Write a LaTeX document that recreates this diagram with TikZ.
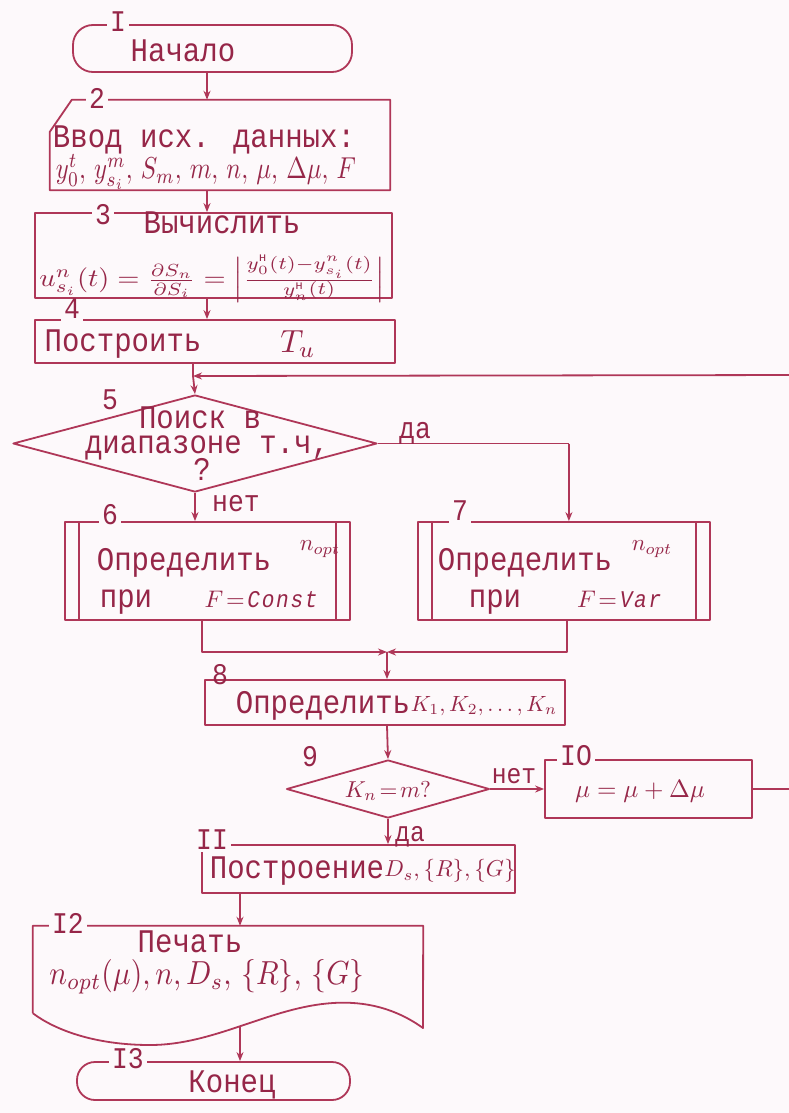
\documentclass[tikz,border=0pt]{standalone}
\usepackage{amsmath}
\usepackage{graphicx}
\usepackage{fontspec}
\setmainfont{Liberation Mono}[FakeStretch=0.88]
\usetikzlibrary{arrows.meta,shapes.geometric,calc}
\definecolor{ink}{RGB}{175,55,88}
\definecolor{txt}{RGB}{150,38,72}
\definecolor{paper}{RGB}{253,249,251}
\begin{document}
\begin{tikzpicture}[x=1pt,y=-1pt,line join=round,
  line/.style={draw=ink,line width=1.8pt},
  box/.style={line,inner sep=0pt},
  blank/.style={inner sep=0pt},
  pp/.style={box,path picture={\draw[ink,line width=1.8pt]
     ([xshift=14pt]path picture bounding box.north west) -- ([xshift=14pt]path picture bounding box.south west)
     ([xshift=-14pt]path picture bounding box.north east) -- ([xshift=-14pt]path picture bounding box.south east);}},
  dia/.style={line,diamond,inner sep=0pt},
  arr/.style={line,-{Stealth[length=9pt,width=7pt]}},
  tx/.style={text=txt,inner sep=0pt,text height=20pt,text depth=4pt,font=\fontsize{33}{38}\selectfont},
  sm/.style={text=txt,inner sep=0pt,text height=19pt,text depth=3pt,font=\fontsize{30}{34}\selectfont},
  lbl/.style={sm,fill=paper,inner xsep=3pt},
  ml/.style={text=txt,inner sep=0pt}]
\useasboundingbox[fill=paper] (0,0) rectangle (789,1113);

% 1
\node[box,rounded corners=20pt,minimum width=279pt,minimum height=47pt] (b1) at (212.5,48.5) {};
\node[lbl] (l1) at (118,24) {I};
\node[tx] (t1) at (183,54) {Начало};
% 2
\node[blank,minimum width=340pt,minimum height=90pt] (b2) at (220,145) {};
\draw[line] ([xshift=22pt]b2.north west) -- (b2.north east) -- (b2.south east) -- (b2.south west) -- ([yshift=-32pt]b2.north west) -- cycle;
\node[lbl] (l2) at (97,101) {2};
\node[tx] (t2a) at (204,139) {Ввод исх. данных:};
\node[ml] (t2b) at (206,172) {\resizebox{300pt}{24pt}{$y^{t}_{0},\,y^{m}_{s_i},\,S_m,\,m,\,n,\,\mu,\,\Delta\mu,\,F$}};
% 3
\node[box,minimum width=357pt,minimum height=85pt] (b3) at (213.5,255.5) {};
\node[lbl] (l3) at (103,216) {3};
\node[tx] (t3a) at (222,225) {Вычислить};
\node[ml] (t3b) at (212,279) {\resizebox{345pt}{31pt}{$u^{n}_{s_i}(t)=\frac{\partial S_n}{\partial S_i}=\left|\frac{y^{\text{н}}_{0}(t)-y^{n}_{s_i}(t)}{y^{\text{н}}_{n}(t)}\right|$}};
% 4
\node[box,minimum width=360pt,minimum height=43pt] (b4) at (215,341.5) {};
\node[lbl] (l4) at (72,310) {4};
\node[tx] (t4a) at (123,343) {Построить};
\node[ml] (t4b) at (298,344) {\scalebox{3.2}{$T_u$}};
% 5
\coordinate (j5) at (193,376);
\node[dia,minimum width=364pt,minimum height=97pt] (d5) at (195,443.5) {};
\node[sm] (l5) at (110,401) {5};
\node[tx] (t5a) at (200,420) {Поиск в};
\node[tx] (t5b) at (207,445) {диапазоне т.ч,};
\node[tx] (t5c) at (202,472) {?};
% 6, 7
\node[pp,minimum width=285pt,minimum height=98pt] (b6) at (207.5,571) {};
\node[lbl] (l6) at (110,516) {6};
\node[tx] (t6a) at (184,562) {Определить};
\node[ml] (t6n) at (320,549) {\scalebox{2.3}{$n_{opt}$}};
\node[tx] (t6b) at (126,599) {при};
\node[ml] (t6c) at (262,599) {\scalebox{2.4}{$F\!=\!\mathit{Const}$}};
\node[pp,minimum width=292pt,minimum height=98pt] (b7) at (564,571) {};
\node[lbl] (l7) at (460,512) {7};
\node[tx] (t7a) at (525,562) {Определить};
\node[ml] (t7n) at (652,549) {\scalebox{2.3}{$n_{opt}$}};
\node[tx] (t7b) at (495,599) {при};
\node[ml] (t7c) at (620,599) {\scalebox{2.4}{$F\!=\!\mathit{Var}$}};
% merge
\coordinate (j8) at (387,652);
% 8
\node[box,minimum width=360pt,minimum height=45pt] (b8) at (385,702.5) {};
\node[sm] (l8) at (220,676) {8};
\node[tx] (t8a) at (323,705) {Определить};
\node[ml] (t8b) at (484,706) {\scalebox{2.2}{$K_1,K_2,\ldots,K_n$}};
% 9
\node[dia,minimum width=203pt,minimum height=58pt] (d9) at (388,789) {};
\node[sm] (l9) at (310,758) {9};
\node[ml] (t9) at (388,791) {\scalebox{2.3}{$K_n\!=\!m?$}};
% 10
\node[box,minimum width=207pt,minimum height=58pt] (b10) at (648.5,789) {};
\node[lbl] (l10) at (576,757) {IO};
\node[ml] (t10) at (640,791) {\scalebox{2.5}{$\mu=\mu+\Delta\mu$}};
\coordinate (r1) at (805,789);
\coordinate (r2) at (805,375);
% 11
\node[box,minimum width=313pt,minimum height=48pt] (b11) at (358.5,869) {};
\node[lbl] (l11) at (212,841) {II};
\node[tx] (t11a) at (297,870) {Построение};
\node[ml] (t11b) at (450,871) {\scalebox{2.3}{$D_s,\{R\},\{G\}$}};
% 12
\node[blank,minimum width=390pt,minimum height=87pt] (b12) at (228,969.5) {};
\draw[line] (b12.south west) -- (b12.north west) -- (b12.north east) -- (423,1028)
  .. controls (395,1008) and (365,1001) .. (333,1003)
  .. controls (270,1007) and (215,1045) .. (150,1045)
  .. controls (95,1045) and (55,1030) .. (b12.south west);
\coordinate (w12) at (240,1026);
\node[lbl] (l12) at (68,925) {I2};
\node[tx] (t12a) at (190,944) {Печать};
\node[ml] (t12b) at (207,977) {\resizebox{315pt}{25pt}{$n_{opt}(\mu),n,D_s,\,\{R\},\,\{G\}$}};
% 13
\node[box,rounded corners=18pt,minimum width=273pt,minimum height=38pt] (b13) at (213.5,1081) {};
\node[lbl] (l13) at (128,1060) {I3};
\node[tx] (t13) at (232,1084) {Конец};

% connectors
\coordinate (a1) at (207,0);
\draw[arr] (b1.south -| a1) -- (a1 |- b2.north);
\draw[arr] (b2.south -| a1) -- (a1 |- b3.north);
\draw[arr] (b3.south -| a1) -- (a1 |- b4.north);
\draw[line] (b4.south -| j5) -- (j5);
\draw[arr] (j5) -- (d5.north);
\draw[line] (d5.east) -- ++(191,0) coordinate (c57);
\draw[arr] (c57) -- (c57 |- b7.north);
\node[sm] (yes5) at (415,430) {да};
\draw[arr] (d5.south) -- (d5.south |- b6.north);
\node[sm] (no5) at (236,503) {нет};
\draw[arr] ([xshift=-5.5pt]b6.south) -- ([xshift=-5.5pt]b6.south |- j8) -- (j8);
\draw[arr] ([xshift=3pt]b7.south) -- ([xshift=3pt]b7.south |- j8) -- (j8);
\draw[arr] (j8) -- (j8 |- b8.north);
\draw[arr] (b8.south -| j8) -- (d9.north);
\draw[arr] (d9.east) -- (b10.west);
\node[sm,font=\fontsize{28}{32}\selectfont] (no9) at (514,775) {нет};
\draw[arr] (b10.east) -- (r1) -- (r2) -- (j5);
\draw[arr] (d9.south) -- (d9.south |- b11.north);
\node[sm,font=\fontsize{28}{32}\selectfont] (yes9) at (410,833) {да};
\draw[arr] (b11.south -| w12) -- (w12 |- b12.north);
\draw[arr] (w12) -- (w12 |- b13.north);
\end{tikzpicture}
\end{document}
